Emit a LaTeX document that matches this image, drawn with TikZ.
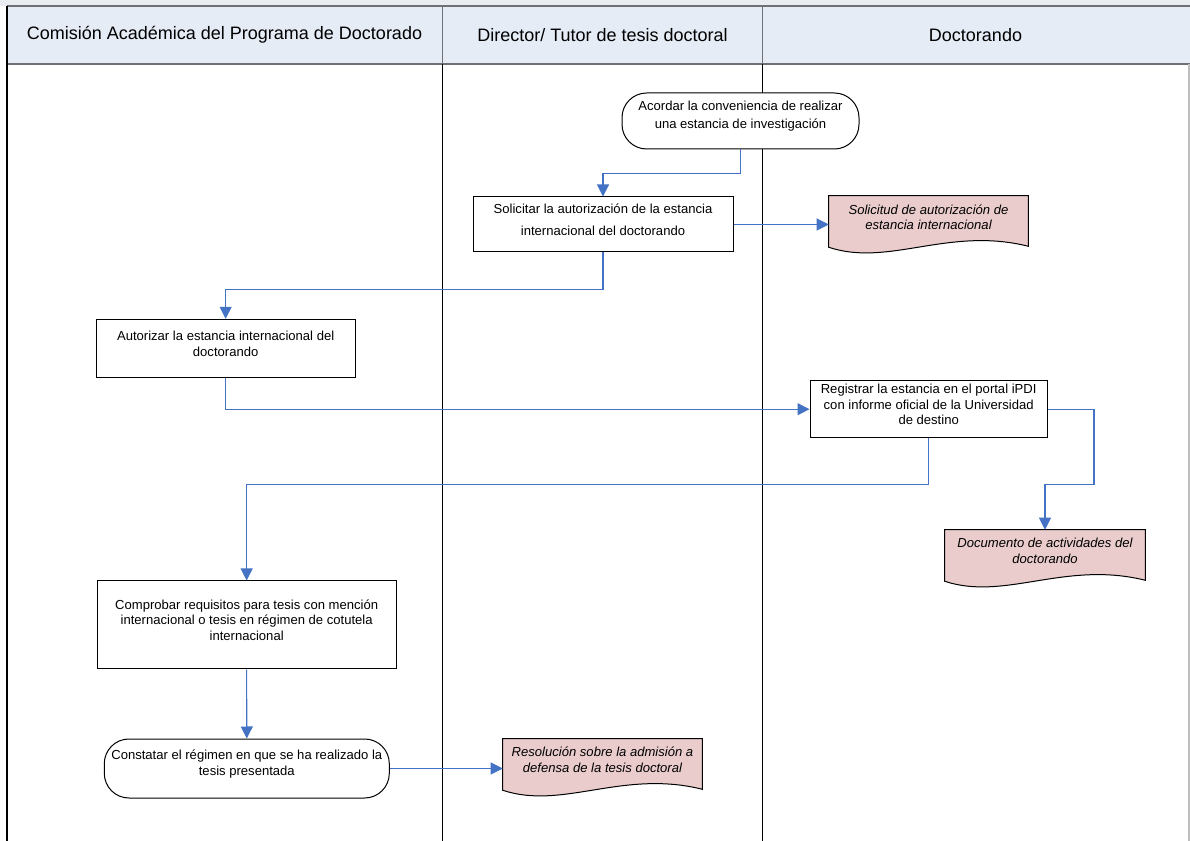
\documentclass[tikz,border=0pt]{standalone}
\usepackage{fontspec}
\setmainfont{Liberation Sans}
\usetikzlibrary{arrows.meta,calc,fit,backgrounds}
\definecolor{hdrfill}{RGB}{230,236,246}
\definecolor{hdrline}{RGB}{110,112,118}
\definecolor{conncol}{RGB}{68,114,196}
\definecolor{docpink}{RGB}{234,204,204}
\definecolor{topband}{RGB}{233,236,240}
\definecolor{rightline}{RGB}{190,190,190}
\begin{document}
\begin{tikzpicture}[x=0.75pt,y=-0.75pt,
  box/.style={draw=black, line width=0.75pt, fill=white, inner sep=0pt, align=center},
  term/.style={box, rounded corners=18.5pt},
  docbox/.style={inner sep=0pt, align=center},
  docshape/.style={draw=black, line width=0.75pt, fill=docpink},
  conn/.style={draw=conncol, line width=0.8pt, -{Triangle[length=9pt,width=9pt]}},
  hdr/.style={font=\fontsize{13.5}{16}\selectfont},
  lane/.style={line width=1.1pt}
]
\useasboundingbox (0,0) rectangle (1190,841);
% header
\fill[topband] (0,0) rectangle (1190,6);
\fill[hdrfill] (7,6) rectangle (1190,64);
\draw[hdrline, line width=1.2pt] (7,6) -- (1190,6);
\draw[hdrline, line width=1.2pt] (7,64) -- (1190,64);
\draw[hdrline, line width=1.1pt] (442.3,6) -- (442.3,64);
\draw[hdrline, line width=1.1pt] (762.7,6) -- (762.7,64);
\node[hdr] (h1) at (224.5,35) {Comisión Académica del Programa de Doctorado};
\node[hdr] (h2) at (602.5,35) {Director/ Tutor de tesis doctoral};
\node[hdr] (h3) at (975.5,35) {Doctorando};
% lanes
\draw[line width=1.5pt] (7,6) -- (7,841);
\draw[lane] (442.3,64) -- (442.3,841);
\draw[lane] (762.7,64) -- (762.7,841);
\draw[rightline, line width=0.8pt] (1189,64) -- (1189,841);

% nodes
\node[term, fit={(622,93)(859,149)}, font=\fontsize{9.8}{13}\selectfont] (a1)
  {Acordar la conveniencia de realizar\\ una estancia de investigación};
\node[box, fit={(473,197)(733,252)}, font=\fontsize{9.8}{16}\selectfont] (b2)
  {Solicitar la autorización de la estancia\\ internacional del doctorando};
\node[docbox, fit={(829,196)(1028,238)}] (d1) {};
\node[box, fit={(96,319.3)(355.3,377.7)}, font=\fontsize{9.8}{11.5}\selectfont] (c1)
  {Autorizar la estancia internacional del\\ doctorando};
\node[box, fit={(810,380.7)(1047.3,437.7)}, font=\fontsize{9.8}{11.5}\selectfont] (r1)
  {Registrar la estancia en el portal iPDI\\ con informe oficial de la Universidad\\ de destino};
\node[docbox, fit={(945,530)(1145,572)}] (d2) {};
\node[box, fit={(97.3,581)(396,669)}, font=\fontsize{9.8}{11.6}\selectfont] (k1)
  {Comprobar requisitos para tesis con mención\\ internacional o tesis en régimen de cotutela\\ internacional};
\node[term, fit={(104.3,739)(389.3,798)}, font=\fontsize{9.8}{12}\selectfont] (c2)
  {Constatar el régimen en que se ha realizado la\\ tesis presentada};
\node[docbox, fit={(503,739)(702,781)}] (d3) {};

% document shapes
\foreach \d in {d1,d2,d3}{
  \path[docshape] (\d.north west) -- (\d.north east) -- ($(\d.south east)+(0,8)$)
    .. controls ($(\d.south west)!0.6!(\d.south east)+(0,-12)$) and ($(\d.south west)!0.3!(\d.south east)+(0,29)$)
    .. ($(\d.south west)+(0,9)$) -- cycle;
}
\node[font=\fontsize{9.8}{11.6}\selectfont\itshape, align=center] (t1) at (d1.center)
  {Solicitud de autorización de\\ estancia internacional};
\node[font=\fontsize{9.8}{12.4}\selectfont\itshape, align=center] (t2) at (d2.center)
  {Documento de actividades del\\ doctorando};
\node[font=\fontsize{9.8}{12}\selectfont\itshape, align=center] (t3) at (d3.center)
  {Resolución sobre la admisión a\\ defensa de la tesis doctoral};

% connectors
\draw[conn] (a1.south) -- ++(0,24) -| (b2.north);
\draw[conn] (b2.east) -- (b2.east -| d1.west);
\draw[conn] (b2.south) -- ++(0,37) -| (c1.north);
\draw[conn] (c1.south) |- (r1.west);
\draw[conn] (r1.south) -- ++(0,46.6) -| (k1.north);
\coordinate (j6) at (1094,484.3);
\draw[conn] (r1.east) -| (j6) -| (d2.north);
\draw[conn] (k1.south) -- (c2.north);
\draw[conn] (c2.east) -- (c2.east -| d3.west);
\end{tikzpicture}
\end{document}
